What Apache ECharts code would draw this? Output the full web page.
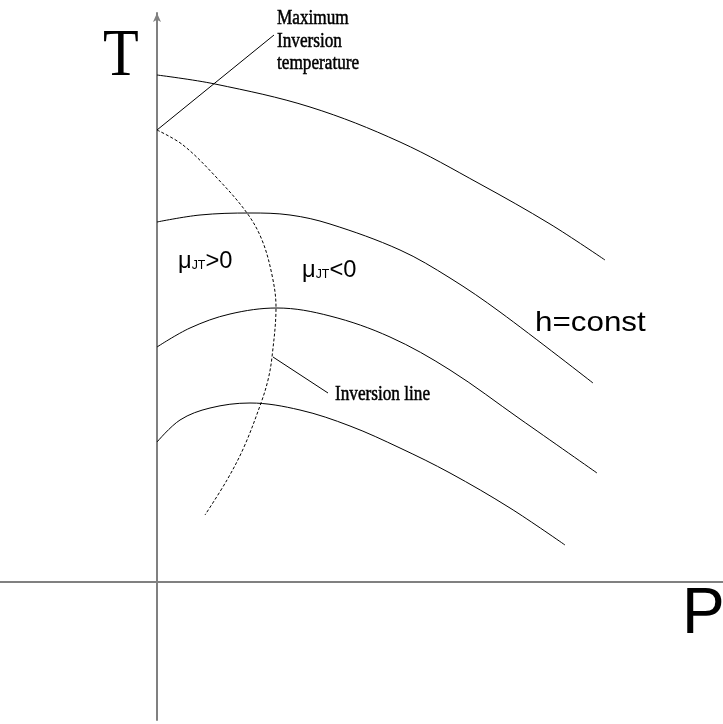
<!DOCTYPE html>
<html>
<head>
<meta charset="utf-8">
<title>Joule-Thomson inversion</title>
<script src="https://cdn.jsdelivr.net/npm/echarts@6/dist/echarts.min.js"></script>
<style>
  html, body { margin: 0; padding: 0; background: #fff; }
  #jt_chart { width: 723px; height: 724px; }
</style>
</head>
<body>
<div id="jt_chart"></div>
<script>
// isenthalpic curves, [P, T]
var hConst1 = [[0, 507], [58, 498], [153, 475], [243, 440], [323, 398], [393, 358], [448, 322]];
var hConst2 = [[0, 360], [43, 367], [93, 369], [133, 367], [173, 358], [243, 332], [293, 304], [343, 270], [436, 199]];
var hConst3 = [[0, 235], [33, 254], [73, 268], [120, 274], [173, 266], [233, 245], [293, 212], [363, 163], [440, 109]];
var hConst4 = [[0, 140], [23, 162], [53, 174], [93, 179], [143, 172], [193, 156], [243, 134], [293, 109], [353, 74], [408, 37]];

// inversion line (dashed)
var inversionLine = [[0, 452], [26, 437], [60, 404], [90, 369], [105, 342], [115, 307], [119, 275],
    [115, 225], [111, 202], [104, 179], [87, 135], [70, 102], [48, 67]];

// pointers to the notes
var maxInvPointer = [[0, 452], [117, 547]];
var invLinePointer = [[116, 225], [171, 189]];

var axisRangeP = [-157, 566];
var axisRangeT = [-138, 569];

var serif = '"Liberation Serif", "Times New Roman", serif';
var sans = '"Liberation Sans", Arial, sans-serif';

var mkLine = function (data, dashed, smooth) {
    return {
        type: 'line',
        data: data,
        showSymbol: false,
        symbol: 'none',
        smooth: smooth,
        silent: true,
        lineStyle: {
            color: '#000',
            width: 1,
            type: dashed ? [3, 2] : 'solid'
        }
    };
};

//文字
var mkText = function (x, y, text, fontSize, family, scaleX, rich, bold) {
    var el = {
        type: 'text',
        x: x,
        y: y,
        scaleX: scaleX,
        silent: true,
        style: {
            text: text,
            fill: '#000',
            fontSize: fontSize,
            fontFamily: family,
            align: 'left',
            textAlign: 'left',
            verticalAlign: 'middle',
            textVerticalAlign: 'middle'
        }
    };
    if (bold) {
        el.style.stroke = '#000';
        el.style.lineWidth = bold;
    }
    if (rich) el.style.rich = rich;
    return el;
};

var muRich = {
    a: { fontSize: 23, fontFamily: sans, fill: '#000' },
    b: { fontSize: 12, fontFamily: sans, fill: '#000', verticalAlign: 'bottom', padding: [0, 0, 2, 0] }
};

var option = {
    animation: false,
    backgroundColor: '#fff',
    grid: { left: 0, right: 0, top: 13, bottom: 4 },
    xAxis: {
        type: 'value',
        min: axisRangeP[0],
        max: axisRangeP[1],
        axisLine: { show: true, onZero: true, lineStyle: { color: '#808080', width: 2 } },
        axisTick: { show: false },
        axisLabel: { show: false },
        splitLine: { show: false }
    },
    yAxis: {
        type: 'value',
        min: axisRangeT[0],
        max: axisRangeT[1],
        axisLine: {
            show: true,
            onZero: true,
            symbol: ['none', 'arrow'],
            symbolSize: [6, 9],
            lineStyle: { color: '#808080', width: 2 }
        },
        axisTick: { show: false },
        axisLabel: { show: false },
        splitLine: { show: false }
    },
    series: [
        mkLine(hConst1, false, 0.35),
        mkLine(hConst2, false, 0.35),
        mkLine(hConst3, false, 0.35),
        mkLine(hConst4, false, 0.35),
        mkLine(inversionLine, true, 0.35),
        mkLine(maxInvPointer, false, false),
        mkLine(invLinePointer, false, false)
    ],
    graphic: [
        mkText(103, 57, 'T', 68, serif, 0.86),
        mkText(277, 19, 'Maximum', 20, serif, 0.86, null, 0.5),
        mkText(277, 41.5, 'Inversion', 20, serif, 0.86, null, 0.5),
        mkText(277, 64, 'temperature', 20, serif, 0.86, null, 0.5),
        mkText(335, 395, 'Inversion line', 20, serif, 0.86, null, 0.5),
        mkText(178, 262, '{a|μ}{b|JT}{a|>0}', 23, sans, 1.03, muRich),
        mkText(302, 271, '{a|μ}{b|JT}{a|<0}', 23, sans, 1.03, muRich),
        mkText(535, 323, 'h=const', 28, sans, 1.12),
        mkText(682, 615, 'P', 64, sans, 1)
    ]
};

var jt_chart = echarts.init(document.getElementById('jt_chart'));
jt_chart.setOption(option);
</script>
</body>
</html>
